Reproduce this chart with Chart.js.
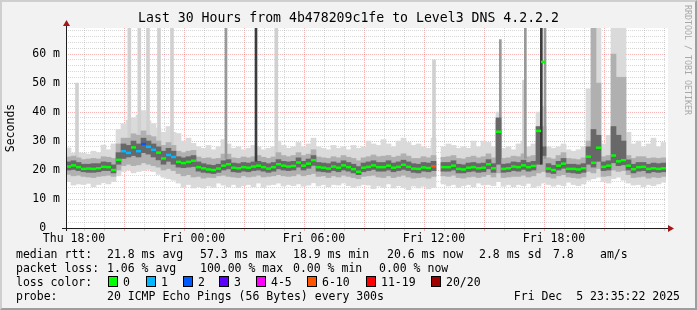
<!DOCTYPE html>
<html>
<head>
<meta charset="utf-8">
<script src="https://cdn.jsdelivr.net/npm/chart.js@4.4.1/dist/chart.umd.min.js"></script>
<style>
  html, body { margin: 0; padding: 0; background: #f2f2f2; }
  #wrap { position: relative; width: 697px; height: 310px; background: #f2f2f2;
          font-family: 'DejaVu Sans Mono', monospace; font-size: 11.5px; color: #000; }
  #wrap canvas { position: absolute; left: 0; top: 0; }
  .frame { position: absolute; left: 0; top: 0; width: 697px; height: 310px; box-sizing: border-box;
           border: 2px solid; border-color: #cfcfcf #9e9e9e #9e9e9e #cfcfcf; pointer-events: none; }
  .t { position: absolute; white-space: pre; line-height: 14px; }
  .sw { position: absolute; width: 10px; height: 11px; box-sizing: border-box; border: 1px solid #000; top: 276px; }
  .mark { position: absolute; left: 683px; top: 5px; writing-mode: vertical-rl; font-size: 8.3px;
          line-height: 9px; color: #a8a8a8; white-space: pre; }
</style>
</head>
<body>
<div id="wrap">
  <canvas id="smoke" width="697" height="310"></canvas>
  <div class="mark">RRDTOOL / TOBI OETIKER</div>

  <span class="t" style="left:16px;top:247px">median rtt:</span>
  <span class="t" style="left:107px;top:247px">21.8 ms avg</span>
  <span class="t" style="left:200px;top:247px">57.3 ms max</span>
  <span class="t" style="left:293px;top:247px">18.9 ms min</span>
  <span class="t" style="left:387px;top:247px">20.6 ms now</span>
  <span class="t" style="left:479px;top:247px">2.8 ms sd</span>
  <span class="t" style="left:553px;top:247px">7.8</span>
  <span class="t" style="left:600px;top:247px">am/s</span>

  <span class="t" style="left:16px;top:261px">packet loss:</span>
  <span class="t" style="left:107px;top:261px">1.06 % avg</span>
  <span class="t" style="left:200px;top:261px">100.00 % max</span>
  <span class="t" style="left:293px;top:261px">0.00 % min</span>
  <span class="t" style="left:379px;top:261px">0.00 % now</span>

  <span class="t" style="left:16px;top:275px">loss color:</span>
  <div id="losskey"></div>

  <span class="t" style="left:16px;top:289px">probe:</span>
  <span class="t" style="left:107px;top:289px">20 ICMP Echo Pings (56 Bytes) every 300s</span>
  <span class="t" style="right:17px;top:289px">Fri Dec  5 23:35:22 2025</span>
  <div class="frame"></div>
</div>
<script>
// 15 minute steps starting Thu 17:36, 120 steps = 30 hours
const stepMinutes = 15;
const spanMinutes = 1800;

const median = [
  21.2, 21.6, 21.0, 20.4, 20.5, 20.4, 20.6, 21.1, 21.0, 20.0,
  23.5, 26.5, 25.9, 27.8, 26.5, 29.0, 28.0, 27.0, 26.0, 24.0,
  25.2, 24.5, 22.8, 22.4, 22.8, 23.2, 21.0, 20.6, 20.2, 20.0,
  20.5, 21.5, 22.0, 20.8, 20.6, 21.0, 20.8, 21.2, 21.5, 21.0,
  20.5, 21.0, 22.0, 21.5, 21.2, 21.4, 22.6, 21.5, 22.2, 23.4,
  21.0, 20.8, 20.5, 21.2, 20.8, 21.6, 21.0, 20.3, 19.4, 20.8,
  21.1, 21.6, 21.0, 21.0, 21.5, 20.8, 21.1, 21.8, 21.1, 20.5,
  20.4, 20.9, 20.7, 21.3, null, 21.0, 21.0, 21.5, 20.4, 20.2,
  20.8, 21.0, 20.6, 20.8, 22.0, 20.6, 33.2, 20.4, 20.6, 21.2,
  21.0, 21.6, 21.0, 21.4, 33.5, 57.3, 20.5, 20.0, 21.5, 22.2,
  20.4, 20.4, 20.2, 20.6, 24.6, 22.5, 27.7, 21.1, 21.5, 25.0,
  23.0, 23.4, 21.5, 20.3, 21.0, 21.1, 20.4, 20.6, 20.4, 20.6
];

// lost pings (of 20) per step
const loss = [
  0, 0, 0, 0, 0, 0, 0, 0, 0, 0,
  0, 1, 1, 0, 1, 2, 1, 1, 0, 0,
  1, 1, 0, 0, 0, 0, 0, 0, 0, 0,
  0, 0, 0, 0, 0, 0, 0, 0, 0, 0,
  0, 0, 0, 0, 0, 0, 0, 0, 0, 0,
  0, 0, 0, 0, 0, 0, 0, 0, 0, 0,
  0, 0, 0, 0, 0, 0, 0, 0, 0, 0,
  0, 0, 0, 6, 0, 0, 0, 0, 0, 0,
  0, 0, 0, 0, 0, 0, 0, 0, 0, 0,
  0, 0, 0, 0, 0, 0, 0, 0, 0, 0,
  0, 0, 0, 0, 0, 0, 0, 0, 0, 0,
  0, 0, 0, 0, 0, 0, 0, 0, 0, 0
];

// smoke: light outer band
const outerLo = [
  16.0, 14.8, 15.2, 15.0, 15.4, 14.2, 15.0, 15.6, 15.2, 16.0,
  18.0, 19.5, 20.0, 19.0, 19.5, 19.8, 20.2, 19.5, 18.5, 17.5,
  17.0, 16.5, 15.5, 14.0, 15.0, 13.8, 14.2, 13.8, 14.5, 14.0,
  15.5, 14.8, 14.2, 15.0, 14.0, 14.6, 15.0, 14.2, 15.5, 14.0,
  14.8, 15.0, 15.5, 14.5, 15.0, 14.6, 15.2, 14.4, 14.8, 15.6,
  14.5, 15.0, 14.2, 15.0, 14.8, 15.5, 14.6, 14.0, 14.5, 15.0,
  14.8, 13.6, 14.5, 14.0, 15.2, 13.8, 14.6, 14.0, 13.2, 14.5,
  13.8, 14.4, 13.5, 14.0, null, 15.2, 14.5, 15.0, 14.0, 14.6,
  15.0, 14.2, 15.5, 14.8, 15.0, 14.6, 16.0, 14.4, 15.0, 14.2,
  15.0, 14.6, 15.4, 14.0, 14.5, 15.5, 15.0, 14.4, 15.0, 14.6,
  15.8, 15.0, 14.6, 15.2, 16.5, 17.0, 17.5, 16.0, 15.5, 17.0,
  17.5, 16.5, 15.5, 14.8, 15.0, 14.2, 15.0, 14.6, 15.2, 15.8
];
const outerHi = [
  27.6, 25.8, 26.0, 25.8, 25.5, 26.5, 26.0, 28.6, 27.0, 29.0,
  34.0, 36.0, 37.2, 38.0, 39.0, 40.5, 37.0, 36.0, 34.5, 33.0,
  35.0, 33.0, 32.6, 30.0, 31.0, 29.2, 28.0, 27.5, 28.5, 27.0,
  28.0, 30.5, 29.0, 27.5, 28.0, 27.0, 27.5, 28.5, 28.0, 27.0,
  27.5, 28.0, 30.0, 28.5, 27.5, 28.0, 29.5, 28.0, 29.0, 31.0,
  28.0, 27.5, 27.0, 28.5, 27.5, 28.0, 27.0, 28.5, 27.5, 28.0,
  30.0, 29.0, 28.5, 30.5, 29.0, 28.0, 30.0, 31.0, 29.5, 28.5,
  29.0, 28.0, 27.5, 31.0, null, 28.0, 29.0, 28.5, 27.5, 28.0,
  27.5, 30.0, 28.0, 30.0, 29.5, 28.0, 40.0, 27.5, 28.0, 27.0,
  29.0, 30.0, 28.0, 29.0, 40.0, 42.0, 28.0, 27.5, 28.0, 29.0,
  27.0, 26.5, 27.0, 28.0, 48.0, 75.0, 75.0, 29.0, 32.0, 75.0,
  75.0, 75.0, 33.0, 29.0, 30.0, 28.0, 29.0, 31.0, 28.0, 29.5
];

// smoke: middle band
const midLo = [
  18.5, 18.0, 18.2, 17.8, 17.6, 17.4, 17.8, 18.0, 18.2, 17.8,
  20.0, 21.5, 22.0, 21.5, 21.8, 22.5, 22.0, 21.5, 21.0, 20.0,
  20.5, 19.8, 18.8, 18.0, 18.4, 17.6, 17.8, 17.2, 17.5, 17.4,
  18.0, 18.2, 17.8, 17.6, 17.4, 18.0, 17.6, 17.8, 18.2, 17.6,
  17.8, 18.0, 18.4, 18.0, 17.8, 18.0, 18.6, 18.0, 18.4, 18.8,
  17.8, 18.0, 17.4, 18.0, 17.6, 18.2, 17.8, 17.4, 17.0, 17.8,
  18.0, 18.2, 17.6, 17.4, 18.0, 17.4, 17.8, 18.2, 17.6, 17.2,
  17.4, 17.6, 17.2, 17.8, null, 18.0, 17.8, 18.2, 17.4, 17.2,
  17.6, 17.8, 17.4, 17.8, 18.4, 17.6, 19.0, 17.4, 17.6, 17.8,
  17.8, 18.2, 17.6, 18.0, 19.0, 19.5, 17.6, 17.2, 18.0, 18.4,
  17.6, 17.4, 17.2, 17.6, 19.5, 19.0, 20.5, 17.8, 18.0, 20.0,
  19.5, 19.8, 18.4, 17.4, 17.6, 17.8, 17.2, 17.6, 17.4, 17.8
];
const midHi = [
  24.5, 24.8, 24.2, 23.6, 23.8, 24.0, 23.8, 24.6, 24.4, 24.0,
  29.0, 31.0, 31.0, 32.5, 32.0, 33.5, 32.0, 31.5, 30.0, 28.5,
  29.5, 28.5, 26.5, 26.0, 26.5, 26.8, 24.5, 24.0, 24.2, 23.8,
  24.0, 25.5, 25.5, 24.2, 24.0, 24.5, 24.2, 24.6, 25.0, 24.4,
  24.0, 24.5, 26.0, 25.0, 24.6, 25.0, 26.0, 25.0, 25.5, 27.0,
  24.5, 24.2, 24.0, 24.6, 24.2, 25.0, 24.4, 24.0, 23.2, 24.2,
  24.6, 25.2, 24.6, 24.8, 25.0, 24.4, 24.8, 25.6, 24.8, 24.0,
  24.0, 24.6, 24.2, 25.0, null, 24.4, 24.6, 25.0, 24.0, 23.8,
  24.4, 24.8, 24.2, 24.6, 25.6, 24.2, 37.0, 24.0, 24.2, 24.8,
  24.6, 25.6, 24.6, 25.0, 30.0, 35.0, 24.2, 23.8, 25.0, 26.0,
  24.0, 23.8, 23.6, 24.2, 30.0, 75.0, 50.0, 24.6, 25.0, 60.0,
  52.0, 52.0, 25.0, 24.0, 24.6, 24.6, 24.0, 24.2, 24.0, 24.2
];

// smoke: dark inner band
const innerLo = [
  20.0, 20.2, 19.8, 19.4, 19.2, 19.2, 19.4, 19.8, 19.8, 19.0,
  22.0, 24.0, 24.5, 25.0, 24.5, 26.0, 25.5, 24.5, 23.5, 22.0,
  23.0, 22.0, 21.0, 20.8, 21.0, 21.2, 19.6, 19.2, 19.0, 18.8,
  19.2, 20.0, 20.4, 19.4, 19.2, 19.6, 19.4, 19.8, 20.0, 19.6,
  19.2, 19.6, 20.4, 20.0, 19.8, 20.0, 21.0, 20.0, 20.6, 21.6,
  19.6, 19.4, 19.2, 19.8, 19.4, 20.0, 19.6, 19.0, 18.4, 19.4,
  19.8, 20.2, 19.6, 19.6, 20.0, 19.4, 19.8, 20.2, 19.8, 19.2,
  19.0, 19.6, 19.4, 19.8, null, 19.6, 19.6, 20.0, 19.0, 19.0,
  19.4, 19.6, 19.2, 19.4, 20.4, 19.2, 22.0, 19.2, 19.4, 19.8,
  19.6, 20.2, 19.6, 20.0, 22.0, 25.0, 19.2, 18.8, 20.0, 20.6,
  19.2, 19.0, 18.8, 19.2, 22.0, 21.0, 23.0, 19.8, 20.0, 22.5,
  21.5, 21.8, 20.0, 19.0, 19.6, 19.8, 19.0, 19.4, 19.2, 19.4
];
const innerHi = [
  22.8, 23.2, 22.6, 22.0, 22.0, 22.2, 22.2, 22.8, 22.6, 21.8,
  26.0, 29.0, 28.5, 30.0, 29.0, 31.0, 30.0, 29.0, 28.0, 26.5,
  27.5, 26.5, 24.6, 24.2, 24.6, 25.0, 22.8, 22.2, 21.8, 21.6,
  22.0, 23.2, 23.6, 22.4, 22.2, 22.6, 22.4, 22.8, 23.0, 22.6,
  22.2, 22.6, 23.6, 23.0, 22.8, 23.0, 24.2, 23.0, 23.8, 25.0,
  22.6, 22.4, 22.2, 22.8, 22.4, 23.2, 22.6, 22.0, 21.2, 22.4,
  22.8, 23.2, 22.6, 22.6, 23.2, 22.4, 22.8, 23.4, 22.8, 22.2,
  22.0, 22.6, 22.4, 23.0, null, 22.6, 22.6, 23.2, 22.0, 21.8,
  22.4, 22.6, 22.2, 22.4, 23.6, 22.2, 38.0, 22.0, 22.2, 22.8,
  22.6, 23.4, 22.6, 23.0, 35.0, 28.0, 22.2, 21.6, 23.0, 24.0,
  22.0, 22.0, 21.8, 22.2, 28.0, 34.0, 32.0, 22.8, 23.2, 35.0,
  32.0, 30.0, 23.5, 22.0, 22.6, 22.6, 22.0, 22.4, 22.2, 22.4
];

// single-probe outliers (minutes after Thu 17:36)
const lightSpikeAt  = [33, 190, 220, 246, 279, 318, 631, 1104, 1374];
const lightSpikeLo  = [24, 30, 30, 30, 28, 26, 24, 24, 24];
const lightSpikeHi  = [50, 75, 75, 75, 75, 75, 75, 58, 51];
const mediumSpikeAt = [480, 1303, 1378, 1437];
const mediumSpikeLo = [24, 24, 24, 24];
const mediumSpikeHi = [75, 65, 75, 75];
const darkSpikeAt   = [570, 1426];
const darkSpikeLo   = [23, 22];
const darkSpikeHi   = [75, 75];

// axes
const xLabelAt = [24, 384, 744, 1104, 1464];
const xLabels = ['Thu 18:00', 'Fri 00:00', 'Fri 06:00', 'Fri 12:00', 'Fri 18:00'];
const yLabelAt = [0, 10, 20, 30, 40, 50, 60];
const yLabels = ['0  ', '10 m', '20 m', '30 m', '40 m', '50 m', '60 m'];

// loss legend
const lossLabels = ['0', '1', '2', '3', '4-5', '6-10', '11-19', '20/20'];
const lossUpTo   = [0, 1, 2, 3, 5, 10, 19, 20];
const lossColors = ['#00ff00', '#00b8ff', '#0059ff', '#5e00ff', '#ff00ff', '#ff5500', '#ff0000', '#a10000'];

function lossColor(n) {
  for (let k = 0; k < lossUpTo.length; k++) if (n <= lossUpTo[k]) return lossColors[k];
  return lossColors[lossColors.length - 1];
}

// legend boxes
const keyX = [108, 146, 183, 219, 256, 307, 366, 431];
const key = document.getElementById('losskey');
lossLabels.forEach((lab, k) => {
  const sw = document.createElement('div');
  sw.className = 'sw';
  sw.style.left = keyX[k] + 'px';
  sw.style.background = lossColors[k];
  key.appendChild(sw);
  const tx = document.createElement('span');
  tx.className = 't';
  tx.style.left = (keyX[k] + 15) + 'px';
  tx.style.top = '275px';
  tx.textContent = lab;
  key.appendChild(tx);
});

const stepX = i => i * stepMinutes + stepMinutes / 2;
const band = (lo, hi) => lo.map((v, i) => ({ x: stepX(i), y: v == null ? null : [v, hi[i]] }))
                           .filter(p => p.y != null);
const spikes = (at, lo, hi) => at.map((m, i) => ({ x: m, y: [lo[i], hi[i]] }));

const hourTicks = [];
for (let m = xLabelAt[0]; m < spanMinutes; m += 60) hourTicks.push(m);
const yTicks = [];
for (let v = 0; v < 69; v += 2) yTicks.push(v);

const minorGrid = 'rgba(150,150,150,0.38)';
const majorGrid = 'rgba(240,60,60,0.38)';
const mono = 'DejaVu Sans Mono';

const isMajorX = c => c.tick && (c.tick.value - xLabelAt[0]) % 180 === 0;
const isMajorY = c => c.tick && c.tick.value % 10 === 0;

const plotFrame = {
  id: 'plotFrame',
  beforeDraw(chart) {
    const { ctx, chartArea: a } = chart;
    ctx.save();
    ctx.fillStyle = '#ffffff';
    ctx.fillRect(a.left, a.top, a.right - a.left + 2, a.bottom - a.top);
    ctx.restore();
  },
  afterDatasetsDraw(chart) {
    const { ctx, chartArea: a } = chart;
    ctx.save();
    ctx.strokeStyle = '#1e1e1e';
    ctx.lineWidth = 1;
    ctx.beginPath();
    ctx.moveTo(a.left - 4, a.bottom + 0.5);
    ctx.lineTo(a.right + 4, a.bottom + 0.5);
    ctx.moveTo(a.left + 0.5, a.bottom + 3);
    ctx.lineTo(a.left + 0.5, a.top - 4);
    ctx.stroke();
    ctx.fillStyle = '#a01818';
    ctx.beginPath();
    ctx.moveTo(a.right + 2, a.bottom - 3);
    ctx.lineTo(a.right + 8, a.bottom + 0.5);
    ctx.lineTo(a.right + 2, a.bottom + 4);
    ctx.fill();
    ctx.beginPath();
    ctx.moveTo(a.left - 3, a.top - 2);
    ctx.lineTo(a.left + 0.5, a.top - 8);
    ctx.lineTo(a.left + 4, a.top - 2);
    ctx.fill();
    ctx.restore();
  }
};

Chart.defaults.font.family = mono;
Chart.defaults.color = '#000';

new Chart(document.getElementById('smoke'), {
  type: 'bar',
  data: {
    datasets: [
      { label: 'outer', data: band(outerLo, outerHi), backgroundColor: '#dadada', barThickness: 5, grouped: false, order: 6 },
      { label: 'light spikes', data: spikes(lightSpikeAt, lightSpikeLo, lightSpikeHi), backgroundColor: '#d0d0d0', barThickness: 3, grouped: false, order: 5 },
      { label: 'mid', data: band(midLo, midHi), backgroundColor: '#b0b0b0', barThickness: 5, grouped: false, order: 4 },
      { label: 'medium spikes', data: spikes(mediumSpikeAt, mediumSpikeLo, mediumSpikeHi), backgroundColor: '#999999', barThickness: 2, grouped: false, order: 3 },
      { label: 'inner', data: band(innerLo, innerHi), backgroundColor: '#686868', barThickness: 5, grouped: false, order: 2 },
      { label: 'dark spikes', data: spikes(darkSpikeAt, darkSpikeLo, darkSpikeHi), backgroundColor: '#3c3c3c', barThickness: 2, grouped: false, order: 1 },
      {
        type: 'line', label: 'median rtt',
        data: median.map((v, i) => ({ x: stepX(i), y: v })),
        showLine: false,
        pointStyle: 'line', pointRadius: 2.5, pointBorderWidth: 2.5,
        pointBorderColor: loss.map(lossColor),
        order: 0
      }
    ]
  },
  options: {
    responsive: false,
    animation: false,
    devicePixelRatio: 1,
    layout: { padding: 0 },
    plugins: {
      legend: { display: false },
      tooltip: { enabled: false },
      title: {
        display: true,
        text: 'Last 30 Hours from 4b478209c1fe to Level3 DNS 4.2.2.2',
        font: { family: mono, size: 13.2, weight: 'normal', lineHeight: '16px' },
        color: '#000',
        padding: { top: 11, bottom: 1 }
      }
    },
    scales: {
      x: {
        type: 'linear', min: 0, max: spanMinutes, offset: false,
        afterBuildTicks: s => { s.ticks = hourTicks.map(v => ({ value: v })); },
        afterFit: s => { s.height = 82; },
        ticks: {
          autoSkip: false, maxRotation: 0, padding: 1,
          font: { family: mono, size: 11.5 }, color: '#000',
          callback: v => { const k = xLabelAt.indexOf(v); return k < 0 ? '' : xLabels[k]; }
        },
        grid: {
          color: c => (isMajorX(c) ? majorGrid : minorGrid),
          tickLength: 3, lineWidth: 1
        },
        border: { display: false, dash: [1, 1] }
      },
      y: {
        min: 0, max: 69,
        afterBuildTicks: s => { s.ticks = yTicks.map(v => ({ value: v })); },
        afterFit: s => { s.width = 66; },
        ticks: {
          autoSkip: false, padding: 6,
          font: { family: mono, size: 11.5 }, color: '#000',
          callback: v => { const k = yLabelAt.indexOf(v); return k < 0 ? '' : yLabels[k]; }
        },
        grid: {
          color: c => (isMajorY(c) ? majorGrid : minorGrid),
          drawTicks: false, lineWidth: 1
        },
        border: { display: false, dash: [1, 1] },
        title: {
          display: true, text: 'Seconds', color: '#000',
          font: { family: mono, size: 11.5 },
          padding: { top: 4, bottom: 0 }
        }
      },
      yPad: {
        position: 'right', display: true,
        afterFit: s => { s.width = 31; },
        ticks: { display: false },
        grid: { display: false },
        border: { display: false }
      }
    }
  },
  plugins: [plotFrame]
});
</script>
</body>
</html>
